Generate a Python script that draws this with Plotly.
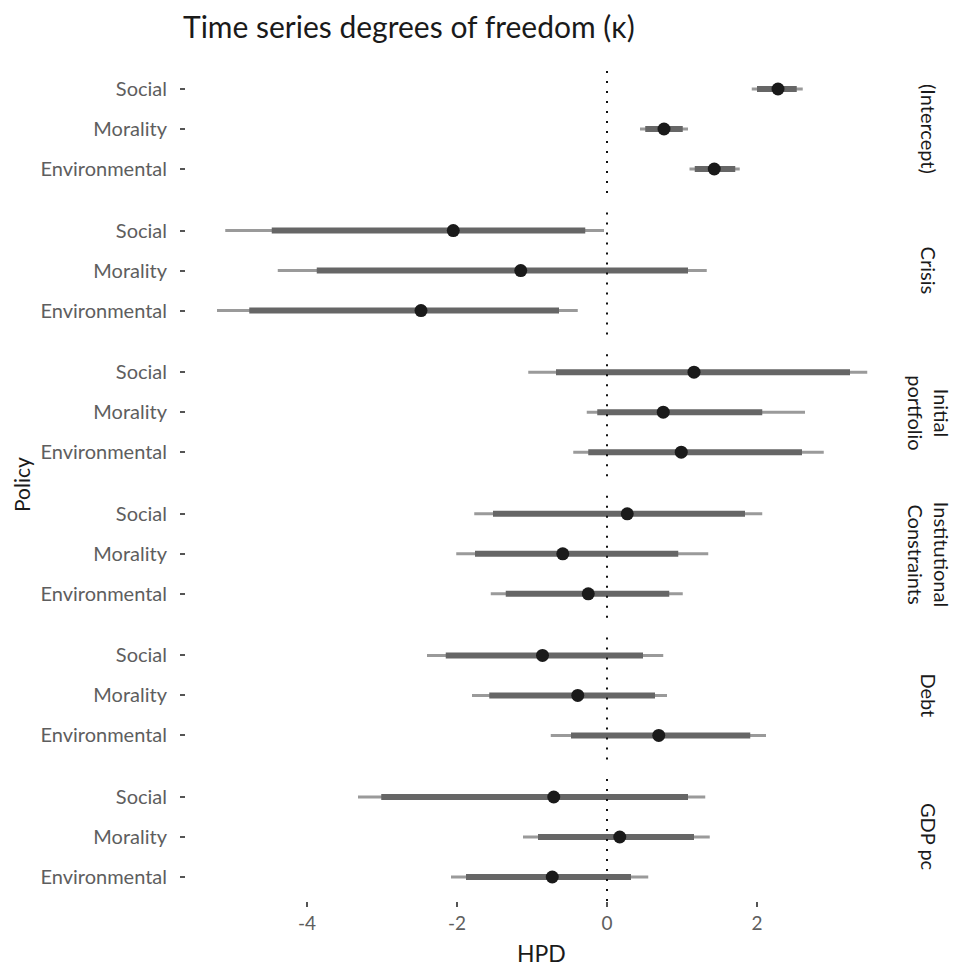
import plotly.graph_objects as go
from plotly.subplots import make_subplots

facets = ["(Intercept)", "Crisis", "Initial<br>portfolio", "Institutional<br>Constraints", "Debt", "GDP pc"]
policies = ["Social", "Morality", "Environmental"]

# per facet: values for [Social, Morality, Environmental]
point = [
    [2.28, 0.76, 1.43],
    [-2.05, -1.15, -2.48],
    [1.16, 0.75, 0.99],
    [0.27, -0.59, -0.25],
    [-0.86, -0.39, 0.69],
    [-0.71, 0.17, -0.73],
]
inner_lo = [
    [2.00, 0.51, 1.17],
    [-4.47, -3.87, -4.77],
    [-0.68, -0.13, -0.25],
    [-1.52, -1.76, -1.35],
    [-2.15, -1.57, -0.48],
    [-3.01, -0.92, -1.88],
]
inner_hi = [
    [2.53, 1.01, 1.71],
    [-0.29, 1.08, -0.64],
    [3.24, 2.07, 2.60],
    [1.84, 0.95, 0.83],
    [0.48, 0.64, 1.91],
    [1.08, 1.16, 0.32],
]
outer_lo = [
    [1.93, 0.44, 1.10],
    [-5.09, -4.39, -5.20],
    [-1.05, -0.27, -0.45],
    [-1.77, -2.01, -1.55],
    [-2.40, -1.80, -0.75],
    [-3.32, -1.12, -2.08],
]
outer_hi = [
    [2.61, 1.08, 1.77],
    [-0.04, 1.33, -0.39],
    [3.47, 2.64, 2.89],
    [2.07, 1.35, 1.01],
    [0.75, 0.80, 2.12],
    [1.31, 1.37, 0.55],
]
x_ticks = [-4, -2, 0, 2]
x_ticktext = ["-4", "-2", "0", "2"]

FONT = "Lato"
OFF = 8  # page body margin
W, H = 958 - OFF, 966 - OFF
ML, MT = 186 - OFF, 65 - OFF
PW = 711
PH = 836
MR = W - ML - PW
MB = H - MT - PH
gap = 13.6 / PH
X0PX, PXU = 607 - OFF, 75.0  # pixel of x=0 and pixels per unit (figure coords)

fig = make_subplots(rows=6, cols=1, shared_xaxes=True, vertical_spacing=gap)

def seg(lo, hi, cats):
    xs, ys = [], []
    for a, b, c in zip(lo, hi, cats):
        xs += [a, b, None]
        ys += [c, c, None]
    return xs, ys

dom_h = (1 - 5 * gap) / 6
for i in range(6):
    r = i + 1
    xs, ys = seg(outer_lo[i], outer_hi[i], policies)
    fig.add_trace(go.Scatter(x=xs, y=ys, mode="lines", line=dict(color="#9a9a9a", width=3),
                             showlegend=False, hoverinfo="skip"), row=r, col=1)
    xs, ys = seg(inner_lo[i], inner_hi[i], policies)
    fig.add_trace(go.Scatter(x=xs, y=ys, mode="lines", line=dict(color="#666666", width=6),
                             showlegend=False, hoverinfo="skip"), row=r, col=1)
    fig.add_trace(go.Scatter(x=point[i], y=policies, mode="markers",
                             marker=dict(color="#1a1a1a", size=13),
                             showlegend=False), row=r, col=1)
    yname = "y" if r == 1 else f"y{r}"
    xname = "x" if r == 1 else f"x{r}"
    fig.add_shape(type="line", xref=xname, yref=f"{yname} domain", x0=0, x1=0, y0=0, y1=1,
                  line=dict(color="#111111", width=2, dash="2px,8px"), layer="above")
    dom_top = 1 - i * (dom_h + gap)
    sx = 929
    fig.add_annotation(text=facets[i], xref="paper", yref="paper",
                       x=(sx - OFF - ML) / PW, y=dom_top - dom_h / 2, textangle=90,
                       showarrow=False, xanchor="center", yanchor="middle",
                       font=dict(family=FONT, size=20, color="#1a1a1a"))

fig.update_yaxes(type="category", categoryorder="array",
                 categoryarray=["Environmental", "Morality", "Social"],
                 range=[-0.6, 2.6], showgrid=False, zeroline=False, showline=False,
                 ticks="outside", ticklen=5, tickwidth=1.5, tickcolor="#555555",
                 ticklabelstandoff=9,
                 tickfont=dict(family=FONT, size=20, color="#5e5e5e"))
fig.update_xaxes(range=[(ML - X0PX) / PXU, (ML + PW - X0PX) / PXU],
                 tickvals=x_ticks, ticktext=x_ticktext,
                 showgrid=False, zeroline=False, showline=False, ticks="")
fig.update_xaxes(row=6, col=1, ticks="outside", ticklen=5, tickwidth=1.5, tickcolor="#555555",
                 showticklabels=True, tickfont=dict(family=FONT, size=19, color="#5e5e5e"))

fig.add_annotation(text="HPD", xref="paper", yref="paper", x=(541 - OFF - ML) / PW,
                   y=-(953 - OFF - (MT + PH)) / PH, showarrow=False, xanchor="center", yanchor="middle",
                   font=dict(family=FONT, size=23, color="#1a1a1a"))
fig.add_annotation(text="Policy", xref="paper", yref="paper", x=(22 - OFF - ML) / PW,
                   y=1 - (485 - OFF - MT) / PH, showarrow=False, xanchor="center", yanchor="middle",
                   textangle=-90, font=dict(family=FONT, size=21, color="#1a1a1a"))

fig.update_layout(
    width=W, height=H,
    margin=dict(l=ML, r=MR, t=MT, b=MB),
    paper_bgcolor="white", plot_bgcolor="white",
    title=dict(text="Time series degrees of freedom (κ)", xref="container", yref="container",
               x=(183 - OFF) / W, y=1 - (27 - OFF) / H, xanchor="left", yanchor="middle",
               font=dict(family=FONT, size=30, color="#1a1a1a")),
)

fig.write_html("out.html")
